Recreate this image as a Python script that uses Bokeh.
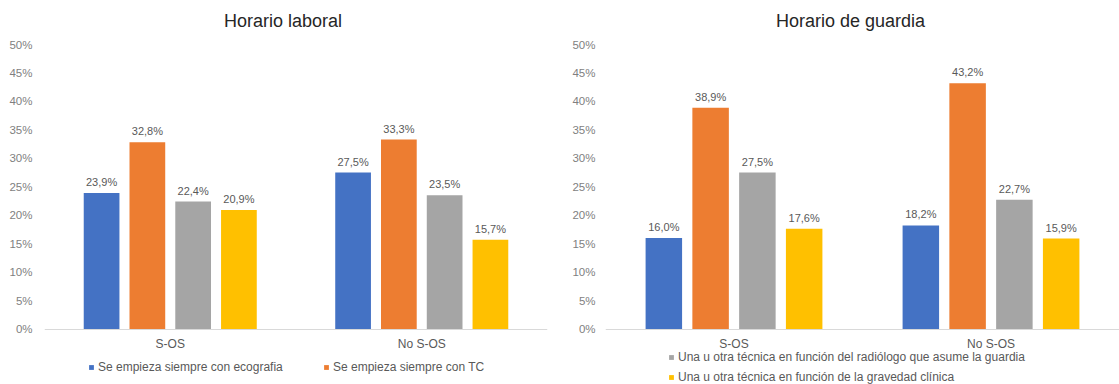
from bokeh.plotting import figure
from bokeh.layouts import row
from bokeh.models import (ColumnDataSource, FactorRange, Range1d, Label, Legend,
                          LegendItem, FixedTicker)
from bokeh.transform import dodge
from bokeh.core.properties import value
from bokeh.embed import file_html
from bokeh.resources import INLINE

# Categories and series
groups = ["S-OS", "No S-OS"]
series = [
    "Se empieza siempre con ecografia",
    "Se empieza siempre con TC",
    "Una u otra técnica en función del radiólogo que asume la guardia",
    "Una u otra técnica en función de la gravedad clínica",
]
colors = ["#4472C4", "#ED7D31", "#A5A5A5", "#FFC000"]

# Horario laboral (%)
laboral_ecografia = [23.9, 27.5]
laboral_tc = [32.8, 33.3]
laboral_radiologo = [22.4, 23.5]
laboral_gravedad = [20.9, 15.7]

# Horario de guardia (%)
guardia_ecografia = [16.0, 18.2]
guardia_tc = [38.9, 43.2]
guardia_radiologo = [27.5, 22.7]
guardia_gravedad = [17.6, 15.9]

y_ticks = [0, 5, 10, 15, 20, 25, 30, 35, 40, 45, 50]
y_tick_labels = {t: f"{t}%" for t in y_ticks}

FONT = "Liberation Sans"
SLOT = 0.182
BAR_W = 0.142
HEIGHT = 384
PLOT_TOP, PLOT_BOTTOM = 44, 328.5        # pixel rows of 50% and 0%
PX_PER_UNIT = (PLOT_BOTTOM - PLOT_TOP) / 50
Y_MAX = 50 + PLOT_TOP / PX_PER_UNIT
Y_MIN = -(HEIGHT - PLOT_BOTTOM) / PX_PER_UNIT


def fmt(v):
    return f"{v:.1f}".replace(".", ",") + "%"


def make_chart(title, values, width, border_left, border_right, tick_standoff,
               title_x, legend_specs):
    p = figure(x_range=FactorRange(*groups, range_padding=0),
               y_range=Range1d(Y_MIN, Y_MAX), width=width, height=HEIGHT,
               output_backend="svg", toolbar_location=None,
               min_border_left=border_left, min_border_right=border_right,
               min_border_top=0, min_border_bottom=0)
    p.outline_line_color = None
    p.background_fill_color = "white"
    p.xgrid.visible = False
    p.ygrid.visible = False

    renderers = []
    for i, vals in enumerate(values):
        src = ColumnDataSource(dict(g=groups, v=vals, lab=[fmt(v) for v in vals]))
        off = (i - 1.5) * SLOT
        r = p.vbar(x=dodge("g", off, range=p.x_range), top="v", width=BAR_W,
                   fill_color=colors[i], line_color=None, source=src)
        p.text(x=dodge("g", off, range=p.x_range), y="v", text="lab",
               source=src, y_offset=-5, text_align="center",
               text_baseline="bottom", text_font=value(FONT),
               text_font_size="11px", text_color="#595959")
        renderers.append(r)

    # value axis (labels only)
    p.yaxis.ticker = FixedTicker(ticks=y_ticks)
    p.yaxis.major_label_overrides = y_tick_labels
    p.yaxis.axis_line_color = None
    p.yaxis.major_tick_line_color = None
    p.yaxis.minor_tick_line_color = None
    p.yaxis.major_tick_out = 0
    p.yaxis.major_label_text_font = FONT
    p.yaxis.major_label_text_font_size = "11.5px"
    p.yaxis.major_label_text_color = "#7F7F7F"
    p.yaxis.major_label_standoff = tick_standoff

    # category axis sitting on the 0% baseline
    p.xaxis.fixed_location = 0
    p.xaxis.axis_line_color = "#D9D9D9"
    p.xaxis.major_tick_line_color = None
    p.xaxis.major_tick_out = 0
    p.xaxis.major_label_text_font = FONT
    p.xaxis.major_label_text_font_size = "12px"
    p.xaxis.major_label_text_color = "#595959"
    p.xaxis.major_label_standoff = 8

    p.add_layout(Label(x=title_x, y=Y_MAX - 20 / PX_PER_UNIT, text=title,
                       text_align="center", text_baseline="middle",
                       text_font=FONT, text_font_size="18px",
                       text_color="#262626"))

    for idx_list, loc in legend_specs:
        items = [LegendItem(label=series[k], renderers=[renderers[k]])
                 for k in idx_list]
        leg = Legend(items=items, location=loc, orientation="vertical",
                     padding=0, margin=0, spacing=6, glyph_width=6,
                     glyph_height=6, label_height=14, label_standoff=4,
                     label_text_font=FONT, label_text_font_size="12px",
                     label_text_color="#595959", border_line_color=None,
                     background_fill_alpha=0)
        p.add_layout(leg, "center")
    return p


p1 = make_chart("Horario laboral",
                [laboral_ecografia, laboral_tc, laboral_radiologo, laboral_gravedad],
                560, 44, 13, 12, 0.948,
                [([0], (44, 10)), ([1], (279, 10))])
p2 = make_chart("Horario de guardia",
                [guardia_ecografia, guardia_tc, guardia_radiologo, guardia_gravedad],
                559, 45, 0, 10, 0.953,
                [([2, 3], (63, 0))])

layout = row(p1, p2)
open("out.html", "w").write(file_html(layout, INLINE))
